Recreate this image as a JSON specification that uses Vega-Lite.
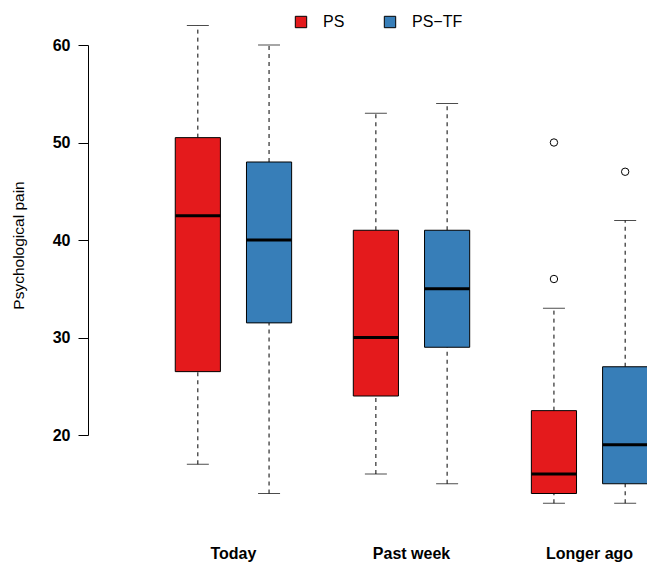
{
  "$schema": "https://vega.github.io/schema/vega-lite/v6.json",
  "autosize": "none",
  "width": 559,
  "height": 517,
  "padding": {"left": 88, "top": 6, "right": 0, "bottom": 40},
  "background": "white",
  "config": {
    "view": {"stroke": null},
    "font": "Liberation Sans"
  },
  "datasets": {
    "stats": [
      {"time": "Today", "group": "PS", "lower": 17, "q1": 26.5, "median": 42.5, "q3": 50.5, "upper": 62},
      {"time": "Today", "group": "PS−TF", "lower": 14, "q1": 31.5, "median": 40, "q3": 48, "upper": 60},
      {"time": "Past week", "group": "PS", "lower": 16, "q1": 24, "median": 30, "q3": 41, "upper": 53},
      {"time": "Past week", "group": "PS−TF", "lower": 15, "q1": 29, "median": 35, "q3": 41, "upper": 54},
      {"time": "Longer ago", "group": "PS", "lower": 13, "q1": 14, "median": 16, "q3": 22.5, "upper": 33},
      {"time": "Longer ago", "group": "PS−TF", "lower": 13, "q1": 15, "median": 19, "q3": 27, "upper": 42}
    ],
    "outliers": [
      {"time": "Longer ago", "group": "PS", "value": 36},
      {"time": "Longer ago", "group": "PS", "value": 50},
      {"time": "Longer ago", "group": "PS−TF", "value": 47}
    ]
  },
  "data": {"name": "stats"},
  "encoding": {
    "x": {
      "field": "time", "type": "nominal", "sort": ["Today", "Past week", "Longer ago"],
      "scale": {"range": [3, 644], "paddingInner": 0.2, "paddingOuter": 0.4},
      "axis": {"title": null, "domain": false, "ticks": false, "labelAngle": 0,
               "labelFontWeight": "bold", "labelFontSize": 16, "labelColor": "black",
               "labelPadding": 22, "labelFont": "Liberation Sans"}
    },
    "xOffset": {
      "field": "group", "type": "nominal", "sort": ["PS", "PS−TF"],
      "scale": {"paddingInner": 0.366, "paddingOuter": 0.183}
    }
  },
  "layer": [
    {
      "mark": {"type": "rule", "color": "black", "strokeDash": [4, 4], "strokeWidth": 1},
      "encoding": {
        "y": {"field": "lower", "type": "quantitative",
              "scale": {"domain": [20, 60], "range": [429, 39], "nice": false, "zero": false},
              "axis": {"title": "Psychological pain", "values": [20, 30, 40, 50, 60], "grid": false,
                       "domainColor": "black", "tickColor": "black", "tickSize": 10,
                       "labelFontWeight": "bold", "labelFontSize": 16, "labelColor": "black",
                       "labelPadding": 8, "labelFont": "Liberation Sans",
                       "titleFont": "Liberation Sans", "titleFontWeight": "normal", "titleFontSize": 15.5,
                       "titleColor": "black", "titleX": -70, "titleY": 239, "titleAngle": -90,
                       "titleBaseline": "middle"}},
        "y2": {"field": "q1"}
      }
    },
    {
      "mark": {"type": "rule", "color": "black", "strokeDash": [4, 4], "strokeWidth": 1},
      "encoding": {
        "y": {"field": "q3", "type": "quantitative"},
        "y2": {"field": "upper"}
      }
    },
    {
      "mark": {"type": "tick", "color": "black", "size": 22, "thickness": 1},
      "encoding": {"y": {"field": "lower", "type": "quantitative"}}
    },
    {
      "mark": {"type": "tick", "color": "black", "size": 22, "thickness": 1},
      "encoding": {"y": {"field": "upper", "type": "quantitative"}}
    },
    {
      "mark": {"type": "bar", "stroke": "black", "strokeWidth": 1, "opacity": 1},
      "encoding": {
        "y": {"field": "q1", "type": "quantitative"},
        "y2": {"field": "q3"},
        "color": {
          "field": "group", "type": "nominal",
          "scale": {"domain": ["PS", "PS−TF"], "range": ["#E41A1C", "#377EB8"]},
          "legend": {"title": null, "orient": "none", "direction": "horizontal",
                     "legendX": 205, "legendY": 8, "symbolType": "square", "symbolSize": 130,
                     "symbolStrokeColor": "black", "symbolStrokeWidth": 1, "symbolOpacity": 1,
                     "labelFontSize": 16, "labelFont": "Liberation Sans", "labelColor": "black",
                     "labelOffset": 14, "columnPadding": 37, "padding": 0}
        }
      }
    },
    {
      "mark": {"type": "tick", "color": "black", "size": 45, "thickness": 3, "opacity": 1},
      "encoding": {"y": {"field": "median", "type": "quantitative"}}
    },
    {
      "data": {"name": "outliers"},
      "mark": {"type": "point", "shape": "circle", "filled": false, "stroke": "black", "strokeWidth": 1, "size": 55, "opacity": 1},
      "encoding": {"y": {"field": "value", "type": "quantitative"}}
    }
  ]
}
